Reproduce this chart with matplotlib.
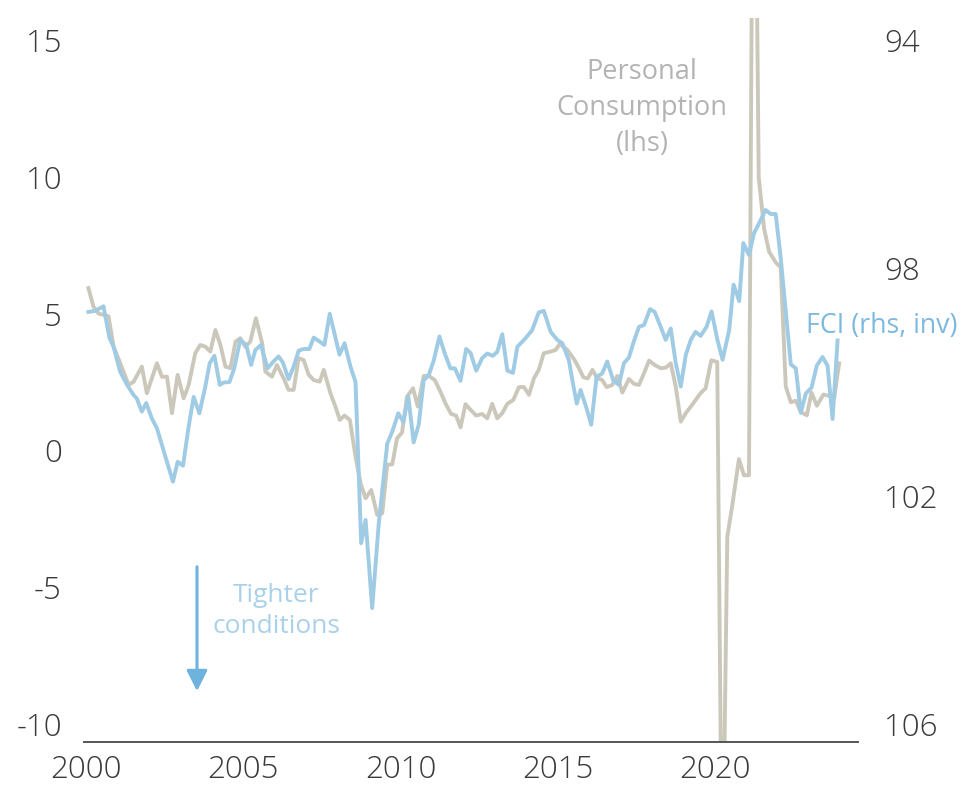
import matplotlib
matplotlib.use("Agg")
import matplotlib.pyplot as plt

# ---- data -------------------------------------------------------------
pc_years = [2000.07, 2000.23, 2000.39, 2000.71, 2000.87, 2001.08, 2001.35, 2001.51, 2001.77, 2001.93,
            2002.25, 2002.41, 2002.57, 2002.73, 2002.91, 2003.10, 2003.26, 2003.47, 2003.63, 2003.79,
            2003.95, 2004.11, 2004.27, 2004.43, 2004.59, 2004.75, 2004.90, 2005.06, 2005.22, 2005.40,
            2005.60, 2005.70, 2005.91, 2006.07, 2006.28, 2006.44, 2006.60, 2006.76, 2006.92, 2007.08,
            2007.24, 2007.43, 2007.56, 2007.77, 2007.93, 2008.07, 2008.22, 2008.39, 2008.57, 2008.73,
            2008.89, 2009.07, 2009.26, 2009.42, 2009.58, 2009.74, 2009.89, 2010.05, 2010.21, 2010.40,
            2010.55, 2010.74, 2010.90, 2011.09, 2011.27, 2011.43, 2011.61, 2011.77, 2011.91, 2012.07,
            2012.23, 2012.41, 2012.60, 2012.76, 2012.92, 2013.08, 2013.24, 2013.40, 2013.59, 2013.77,
            2013.93, 2014.09, 2014.25, 2014.40, 2014.56, 2014.78, 2014.94, 2015.07, 2015.31, 2015.54,
            2015.68, 2015.82, 2015.96, 2016.11, 2016.26, 2016.42, 2016.56, 2016.74, 2016.90, 2017.06,
            2017.27, 2017.43, 2017.59, 2017.75, 2017.91, 2018.09, 2018.28, 2018.44, 2018.60, 2018.76,
            2018.92, 2019.08, 2019.24, 2019.39, 2019.55, 2019.71, 2019.89, 2020.08, 2020.24, 2020.40,
            2020.56, 2020.77, 2020.93, 2021.09, 2021.24, 2021.40, 2021.57, 2021.73, 2021.94, 2022.10,
            2022.26, 2022.42, 2022.58, 2022.74, 2022.93, 2023.08, 2023.25, 2023.46, 2023.64, 2023.80,
            2023.96]
pc_values = [5.93, 5.25, 5.0, 4.9, 3.79, 3.19, 2.39, 2.51, 3.06, 2.09,
             3.18, 2.69, 2.69, 1.36, 2.76, 1.9, 2.39, 3.55, 3.85, 3.79,
             3.61, 4.4, 3.85, 3.06, 3.0, 3.97, 4.1, 3.79, 3.97, 4.83,
             3.91, 2.88, 2.69, 3.12, 2.64, 2.21, 2.21, 3.37, 3.3, 2.76,
             2.57, 2.51, 2.94, 2.09, 1.6, 1.11, 1.27, 1.11, -0.23, -1.2,
             -1.75, -1.45, -2.36, -2.3, -0.53, -0.51, 0.44, 0.65, 1.96, 2.27,
             1.6, 2.72, 2.72, 2.57, 2.15, 1.72, 1.33, 1.27, 0.84, 1.69,
             1.48, 1.27, 1.33, 1.17, 1.7, 1.17, 1.36, 1.7, 1.84, 2.31,
             2.31, 2.03, 2.64, 2.94, 3.55, 3.61, 3.67, 3.89, 3.67, 3.3,
             3.0, 2.67, 2.63, 2.94, 2.64, 2.57, 2.31, 2.39, 2.72, 2.11,
             2.61, 2.43, 2.39, 2.82, 3.28, 3.12, 3.0, 3.02, 3.18, 2.33,
             1.05, 1.36, 1.6, 1.84, 2.09, 2.27, 3.29, 3.23, -17.0, -3.16,
             -2.0, -0.32, -0.91, -0.91, 29.0, 9.98, 8.11, 7.26, 6.87, 6.69,
             2.34, 1.76, 1.81, 1.4, 1.28, 2.11, 1.63, 2.04, 1.99, 1.9,
             3.18]

fci_years = [2000.07, 2000.29, 2000.55, 2000.74, 2000.87, 2001.08, 2001.30, 2001.51, 2001.61, 2001.77,
             2001.91, 2002.09, 2002.25, 2002.46, 2002.76, 2002.91, 2003.08, 2003.26, 2003.42, 2003.60,
             2003.79, 2003.93, 2004.08, 2004.25, 2004.37, 2004.56, 2004.71, 2004.90, 2005.09, 2005.25,
             2005.38, 2005.56, 2005.77, 2005.96, 2006.12, 2006.26, 2006.44, 2006.60, 2006.76, 2006.92,
             2007.10, 2007.24, 2007.43, 2007.58, 2007.75, 2008.06, 2008.22, 2008.41, 2008.57, 2008.75,
             2008.89, 2009.10, 2009.31, 2009.58, 2009.74, 2009.93, 2010.09, 2010.25, 2010.42, 2010.58,
             2010.74, 2010.90, 2011.06, 2011.24, 2011.41, 2011.59, 2011.73, 2011.91, 2012.09, 2012.23,
             2012.41, 2012.60, 2012.76, 2012.94, 2013.08, 2013.24, 2013.40, 2013.58, 2013.72, 2013.88,
             2013.98, 2014.19, 2014.40, 2014.56, 2014.78, 2014.99, 2015.15, 2015.36, 2015.47, 2015.61,
             2015.73, 2015.92, 2016.07, 2016.24, 2016.42, 2016.58, 2016.77, 2016.95, 2017.11, 2017.27,
             2017.43, 2017.59, 2017.75, 2017.94, 2018.09, 2018.28, 2018.44, 2018.60, 2018.76, 2018.92,
             2019.08, 2019.24, 2019.39, 2019.55, 2019.74, 2019.90, 2020.09, 2020.25, 2020.46, 2020.60,
             2020.78, 2020.91, 2021.09, 2021.25, 2021.44, 2021.62, 2021.78, 2021.94, 2022.10, 2022.26,
             2022.42, 2022.58, 2022.74, 2022.90, 2023.08, 2023.25, 2023.43, 2023.59, 2023.75, 2023.91]
fci_values = [98.77, 98.75, 98.67, 99.23, 99.38, 99.82, 100.05, 100.23, 100.29, 100.52,
              100.37, 100.64, 100.81, 101.20, 101.75, 101.40, 101.47, 100.78, 100.26, 100.55,
              100.08, 99.67, 99.54, 100.05, 100.01, 100.00, 99.76, 99.26, 99.35, 99.70,
              99.44, 99.35, 99.76, 99.64, 99.55, 99.66, 99.95, 99.73, 99.45, 99.42,
              99.42, 99.22, 99.29, 99.35, 98.80, 99.52, 99.32, 99.73, 100.00, 102.83,
              102.42, 103.97, 102.48, 101.08, 100.87, 100.55, 100.70, 100.26, 101.06, 100.75,
              99.97, 99.88, 99.62, 99.20, 99.50, 99.76, 99.76, 99.98, 99.42, 99.49,
              99.80, 99.58, 99.50, 99.54, 99.47, 99.16, 99.80, 99.84, 99.38, 99.29,
              99.23, 99.09, 98.78, 98.75, 99.12, 99.26, 99.32, 99.62, 99.97, 100.38,
              100.14, 100.46, 100.75, 99.91, 99.85, 99.64, 99.97, 100.05, 99.67, 99.57,
              99.28, 99.03, 99.00, 98.72, 98.77, 99.03, 99.26, 99.06, 99.67, 100.08,
              99.52, 99.26, 99.12, 99.19, 99.03, 98.76, 99.27, 99.61, 99.09, 98.29,
              98.58, 97.56, 97.77, 97.39, 97.18, 96.98, 97.05, 97.05, 97.82, 98.76,
              99.69, 99.76, 100.54, 100.20, 100.10, 99.71, 99.56, 99.71, 100.65, 99.27]

x_ticks = [2000, 2005, 2010, 2015, 2020]
left_ticks = [-10, -5, 0, 5, 10, 15]
right_ticks = [94, 98, 102, 106]

# ---- style ------------------------------------------------------------
tick_font = "Open Sans"
text_font = "Open Sans"

BEIGE = "#cbc8bb"
BLUE = "#9fcbe4"
TICK_C = "#3a3a3a"
TICK_KW = dict(fontfamily=tick_font, fontsize=22.5, color=TICK_C, fontweight="light")

fig = plt.figure(figsize=(9.78, 7.85), dpi=100)
ax = fig.add_axes([0.0859, 0.0548, 0.7911, 0.9222])
ax2 = ax.twinx()

ax.plot(pc_years, pc_values, color=BEIGE, lw=2.8, solid_joinstyle="round", zorder=2)
ax2.plot(fci_years, fci_values, color=BLUE, lw=2.8, solid_joinstyle="round", zorder=3)

ax.set_xlim(1999.93, 2024.55)
ax.set_ylim(-10.66, 15.8)
ax2.set_ylim(106.32, 93.61)

ax.set_xticks(x_ticks)
ax.set_yticks(left_ticks)
ax2.set_yticks(right_ticks)
ax.set_xticklabels([str(t) for t in x_ticks], **TICK_KW)
ax.set_yticklabels([str(t) for t in left_ticks], **TICK_KW)
ax2.set_yticklabels([str(t) for t in right_ticks], **TICK_KW)
ax.tick_params(axis="both", length=0)
ax.tick_params(axis="y", pad=16)
ax.tick_params(axis="x", pad=9)
ax2.tick_params(axis="y", length=0, pad=19)

for a in (ax, ax2):
    for s in ("top", "left", "right"):
        a.spines[s].set_visible(False)
ax2.spines["bottom"].set_visible(False)
ax.spines["bottom"].set_color("#555555")
ax.spines["bottom"].set_linewidth(1.4)
ax2.patch.set_visible(False)

# annotations
fig.text(642 / 978, 1 - 108 / 785, "Personal\nConsumption\n(lhs)", ha="center", va="center",
         fontsize=19.5, color="#b3b3b3", family=text_font, linespacing=1.37)
fig.text(806 / 978, 1 - 326 / 785, "FCI (rhs, inv)", ha="left", va="center",
         fontsize=19.3, color="#7db9de", family=text_font)
fig.text(276 / 978, 1 - 611 / 785, "Tighter\nconditions", ha="center", va="center",
         fontsize=19, color="#a9d1ea", family=text_font, linespacing=1.32)
fig.add_artist(matplotlib.patches.FancyArrowPatch(
    (197 / 978, 1 - 564 / 785), (197 / 978, 1 - 694 / 785), transform=fig.transFigure,
    arrowstyle="-|>,head_length=0.9,head_width=0.45", mutation_scale=14,
    color="#6db3de", lw=2.2))

fig.savefig("out.png", dpi=100)
